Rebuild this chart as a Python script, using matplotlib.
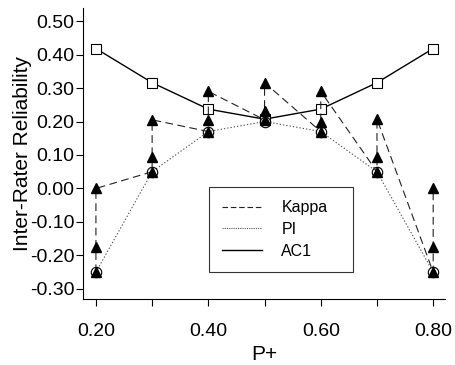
import matplotlib
matplotlib.use("Agg")
import matplotlib.pyplot as plt
from matplotlib.lines import Line2D

plt.rcParams['font.family'] = ['Liberation Sans', 'DejaVu Sans']

p_plus = [0.2, 0.3, 0.4, 0.5, 0.6, 0.7, 0.8]
# Kappa: three values at each P+ (low, mid, high), drawn as one zigzag path
kappa_low = [-0.25, 0.05, 0.17, 0.205, 0.17, 0.05, -0.25]
kappa_mid = [-0.176, 0.095, 0.205, 0.23, 0.20, 0.095, -0.176]
kappa_high = [0.00, 0.205, 0.29, 0.316, 0.29, 0.207, 0.00]
pi_vals = [-0.25, 0.05, 0.17, 0.20, 0.17, 0.05, -0.25]
ac1_vals = [0.418, 0.316, 0.237, 0.207, 0.237, 0.316, 0.418]
yticks = [-0.30, -0.20, -0.10, 0.00, 0.10, 0.20, 0.30, 0.40, 0.50]
xticks = [0.2, 0.3, 0.4, 0.5, 0.6, 0.7, 0.8]
xticklabels = ['0.20', '', '0.40', '', '0.60', '', '0.80']

kx, ky = [], []
for x, lo, mi, hi in zip(p_plus, kappa_low, kappa_mid, kappa_high):
    kx += [x, x, x]
    ky += [lo, mi, hi]

fig = plt.figure(figsize=(4.55, 3.65), dpi=100)
ax = fig.add_axes([0.1824, 0.181, 0.7956, 0.797])

ax.plot(p_plus, ac1_vals, color='black', lw=1.0, ls='-', marker='s', ms=7.5,
        mfc='white', mec='black', mew=0.8, label='AC1', zorder=2)
ax.plot(p_plus, pi_vals, color='#555555', lw=0.8, ls=(0, (1.2, 1.8)), marker='o',
        ms=7.5, mfc='none', mec='black', mew=0.8, label='PI', zorder=3)
ax.plot(kx, ky, color='#222222', lw=0.8, ls=(0, (7, 4)), marker='^', ms=7.5,
        mfc='black', mec='black', label='Kappa', zorder=4)

ax.set_xlim(0.177, 0.821)
ax.set_ylim(-0.33, 0.539)
ax.set_xticks(xticks)
ax.set_xticklabels(xticklabels)
ax.set_yticks(yticks)
ax.set_yticklabels([f"{v:.2f}" for v in yticks])
ax.tick_params(direction='out', length=5, width=0.8, labelsize=14)
ax.tick_params(axis='x', pad=12)
ax.tick_params(axis='y', pad=1)
for s in ['top', 'right']:
    ax.spines[s].set_visible(False)
for s in ['left', 'bottom']:
    ax.spines[s].set_linewidth(0.8)
ax.set_xlabel('P+', fontsize=15, labelpad=4)
ax.set_ylabel('Inter-Rater Reliability', fontsize=15, labelpad=-1.5)

handles = [Line2D([], [], color='#222222', lw=0.8, ls=(0, (5, 2.5))),
           Line2D([], [], color='#555555', lw=0.8, ls=(0, (1, 1))),
           Line2D([], [], color='black', lw=1.0, ls='-')]
leg = ax.legend(handles, ['Kappa', 'PI', 'AC1'], loc='upper left',
                bbox_to_anchor=(0.348, 0.093, 0.398, 0.292), mode='expand',
                fontsize=11.5, frameon=True, fancybox=False, edgecolor='black',
                handlelength=2.5, handletextpad=1.2, labelspacing=0.42,
                borderpad=0.83, borderaxespad=0)
leg.get_frame().set_linewidth(0.8)

fig.savefig('out.png', dpi=100)
